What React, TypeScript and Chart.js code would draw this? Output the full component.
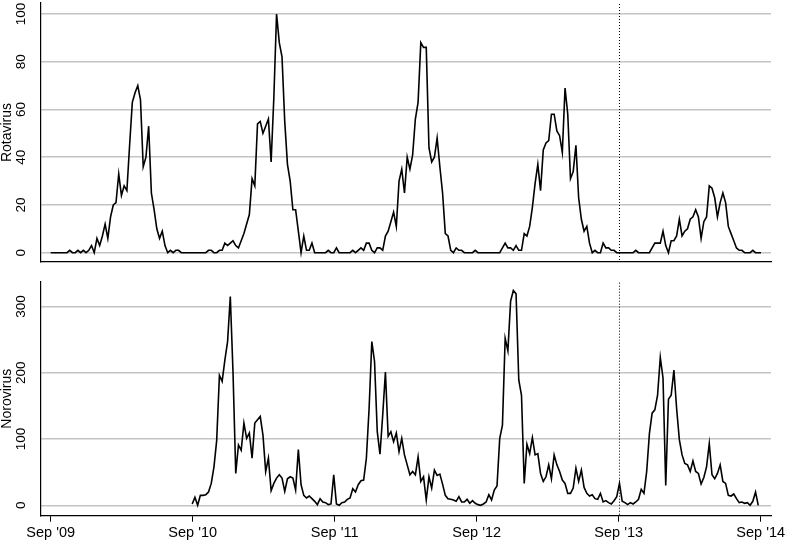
import React, { useEffect, useRef } from 'react';
import { Chart, registerables } from 'chart.js';

Chart.register(...registerables);

// ---------- data ----------
const WEEKS_PER_YEAR = 52.1786;
const yearLabels = ["Sep '09", "Sep '10", "Sep '11", "Sep '12", "Sep '13", "Sep '14"];
const markerYearIndex = 4; // dotted line at Sep '13

const rotaStartWeek = 0;
const rotavirus = [
  0, 0, 0, 0, 0, 0, 0,
  1, 0, 0, 1, 0, 1, 0, 1, 3, 0,
  6, 3, 7, 12, 6, 15, 20, 21, 33, 24,
  28, 26, 45, 63, 67, 70, 64, 36, 40, 53,
  25, 18, 10, 6, 9, 3, 0, 1, 0, 1,
  1, 0, 0, 0, 0, 0, 0, 0, 0, 0,
  0, 1, 1, 0, 0, 1, 1, 4, 3, 4,
  5, 3, 2, 5, 8, 12, 16, 31, 28, 54,
  55, 50, 53, 56, 38, 65, 100, 88, 82, 55,
  37, 30, 18, 18, 9, 0, 7, 1, 1, 4,
  0, 0, 0, 0, 0, 1, 0, 0, 2, 0,
  0, 0, 0, 0, 1, 0, 1, 2, 1, 4,
  4, 1, 0, 2, 2, 1, 7, 9, 13, 17,
  11, 30, 35, 25, 40, 35, 41, 56, 63, 88,
  86, 86, 44, 38, 40, 48, 36, 25, 8, 7,
  1, 0, 2, 1, 1, 0, 0, 0, 0, 1,
  0, 0, 0, 0, 0, 0, 0, 0, 0, 2,
  4, 2, 2, 1, 3, 1, 1, 8, 7, 11,
  19, 29, 37, 26, 43, 46, 47, 58, 58, 51,
  49, 42, 69, 58, 31, 34, 45, 23, 14, 9,
  11, 4, 0, 1, 0, 0, 4, 2, 2, 1,
  1, 0, 0, 0, 0, 0, 0, 0, 1, 0,
  0, 0, 0, 0, 2, 4, 4, 4, 9, 3,
  0, 5, 5, 7, 14, 7, 9, 10, 14, 15,
  18, 15, 6, 13, 15, 28, 27, 23, 15, 21,
  25, 21, 11, 8, 5, 2, 1, 1, 0, 0,
  0, 1, 0, 0, 0,
];

const noroStartWeek = 52;
const norovirus = [
  2, 12, 0, 15, 15, 16, 20, 33, 58, 98,
  196, 187, 219, 247, 315, 200, 48, 91, 83, 124,
  101, 109, 71, 124, 129, 134, 106, 51, 71, 22,
  33, 41, 46, 41, 21, 40, 43, 41, 23, 84,
  31, 15, 11, 14, 10, 6, 1, 10, 5, 4,
  1, 2, 46, 2, 0, 4, 5, 9, 11, 25,
  20, 31, 37, 38, 71, 146, 247, 217, 111, 77,
  136, 201, 104, 111, 96, 109, 81, 101, 76, 61,
  46, 51, 46, 73, 36, 43, 8, 43, 26, 53,
  45, 47, 32, 15, 10, 9, 8, 6, 13, 5,
  5, 9, 3, 7, 3, 1, 0, 2, 5, 16,
  8, 23, 29, 101, 121, 252, 233, 308, 324, 319,
  189, 166, 33, 92, 78, 102, 76, 78, 48, 36,
  43, 61, 40, 76, 61, 51, 38, 33, 18, 18,
  26, 56, 36, 53, 27, 18, 14, 16, 10, 9,
  18, 5, 7, 4, 2, 7, 13, 33, 6, 4,
  1, 4, 2, 5, 9, 24, 18, 51, 108, 139,
  144, 166, 223, 192, 30, 160, 166, 204, 146, 99,
  76, 63, 61, 51, 67, 51, 48, 32, 42, 58,
  93, 46, 40, 48, 61, 36, 33, 15, 14, 17,
  10, 4, 5, 3, 4, 0, 6, 20, 0,
];

const rotaTicks = [0, 20, 40, 60, 80, 100];
const noroTicks = [0, 100, 200, 300];

// ---------- styling ----------
const FONT = "'Liberation Sans', Arial, Helvetica, sans-serif";
const X_MIN = -3.56;
const X_MAX = 264.68;

const markerLine = {
  id: 'markerLine',
  beforeDatasetsDraw(chart: any) {
    const { ctx, chartArea, scales } = chart;
    const x = Math.round(scales.x.getPixelForValue(markerYearIndex * WEEKS_PER_YEAR)) + 0.5;
    ctx.save();
    ctx.strokeStyle = '#000';
    ctx.lineWidth = 1;
    ctx.setLineDash([1, 2]);
    ctx.beginPath();
    ctx.moveTo(x, chartArea.top + 1);
    ctx.lineTo(x, chartArea.bottom);
    ctx.stroke();
    ctx.restore();
  },
};

type PanelSpec = {
  label: string;
  values: number[];
  start: number;
  yTicks: number[];
  yMin: number;
  yMax: number;
  showX: boolean;
  padTop: number;
  padBottom: number;
  xHeight: number;
};

function buildConfig(p: PanelSpec): any {
  return {
    type: 'line',
    data: {
      datasets: [
        {
          label: p.label,
          data: p.values.map((v, i) => ({ x: p.start + i, y: v })),
          borderColor: '#000',
          borderWidth: 1.6,
          pointRadius: 0,
          fill: false,
          tension: 0,
        },
      ],
    },
    options: {
      responsive: false,
      maintainAspectRatio: false,
      animation: false,
      devicePixelRatio: 1,
      layout: { padding: { left: 0, right: 16, top: p.padTop, bottom: p.padBottom } },
      plugins: { legend: { display: false }, tooltip: { enabled: false } },
      scales: {
        x: {
          type: 'linear',
          min: X_MIN,
          max: X_MAX,
          afterBuildTicks: (s: any) => {
            s.ticks = yearLabels.map((_, i) => ({ value: i * WEEKS_PER_YEAR }));
          },
          afterFit: (s: any) => {
            s.height = p.xHeight;
            s.paddingLeft = 0;
            s.paddingRight = 0;
          },
          grid: {
            display: p.showX,
            drawOnChartArea: false,
            drawTicks: true,
            tickLength: 6,
            color: '#000',
            lineWidth: 1,
          },
          border: { display: true, color: '#000', width: 1.2 },
          ticks: {
            display: p.showX,
            autoSkip: false,
            minRotation: 0,
            maxRotation: 0,
            padding: 3,
            color: '#000',
            font: { family: FONT, size: 14.5 },
            callback: (_v: any, i: number) => yearLabels[i],
          },
        },
        y: {
          type: 'linear',
          min: p.yMin,
          max: p.yMax,
          afterBuildTicks: (s: any) => {
            s.ticks = p.yTicks.map((v) => ({ value: v }));
          },
          afterFit: (s: any) => {
            s.width = 41;
            s.paddingTop = 0;
            s.paddingBottom = 0;
          },
          grid: { color: '#c4c4c4', lineWidth: 1.5, drawTicks: false },
          border: { display: true, color: '#000', width: 1.2 },
          ticks: {
            autoSkip: false,
            minRotation: 90,
            maxRotation: 90,
            crossAlign: 'center',
            padding: 8.3,
            color: '#000',
            font: { family: FONT, size: 13.5 },
          },
          title: {
            display: true,
            text: p.label,
            color: '#000',
            padding: 0,
            font: { family: FONT, size: 14, lineHeight: 1 },
          },
        },
      },
    },
    plugins: [markerLine],
  };
}

function Panel({ spec, top, height }: { spec: PanelSpec; top: number; height: number }) {
  const ref = useRef<HTMLCanvasElement | null>(null);
  useEffect(() => {
    if (!ref.current) return;
    const chart = new Chart(ref.current, buildConfig(spec));
    return () => chart.destroy();
  }, []);
  return (
    <canvas
      ref={ref}
      width={787}
      height={height}
      style={{ position: 'absolute', left: 0, top, width: 787, height }}
    />
  );
}

const topSpec: PanelSpec = {
  label: 'Rotavirus',
  values: rotavirus,
  start: rotaStartWeek,
  yTicks: rotaTicks,
  yMin: -3.9,
  yMax: 104.6,
  showX: false,
  padTop: 3,
  padBottom: 8,
  xHeight: 0,
};

const bottomSpec: PanelSpec = {
  label: 'Norovirus',
  values: norovirus,
  start: noroStartWeek,
  yTicks: noroTicks,
  yMin: -15.7,
  yMax: 337.3,
  showX: true,
  padTop: 11.7,
  padBottom: 0,
  xHeight: 26.3,
};

export default function App() {
  return (
    <div style={{ position: 'absolute', left: 0, top: 0, width: 787, height: 542, background: '#fff' }}>
      <Panel spec={topSpec} top={0} height={270} />
      <Panel spec={bottomSpec} top={270} height={272} />
    </div>
  );
}
